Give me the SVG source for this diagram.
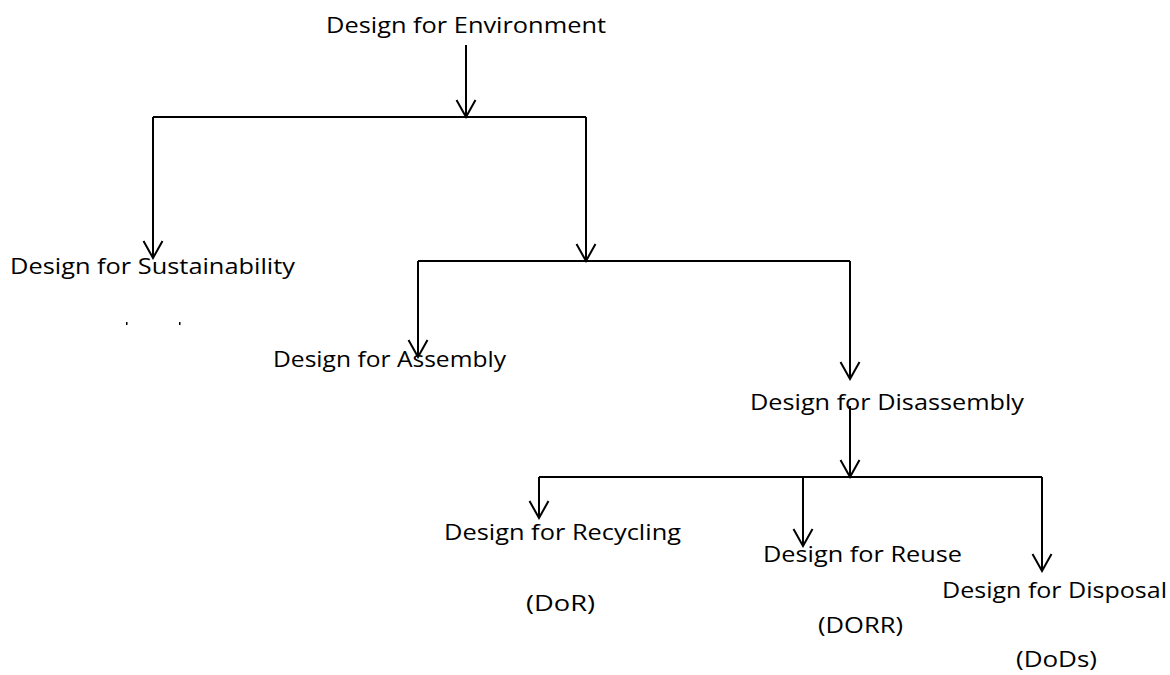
<svg xmlns="http://www.w3.org/2000/svg" width="1170" height="675" viewBox="0 0 1170 675">
<style>
.t{font-family:"Open Sans","Liberation Sans",sans-serif;font-size:22px;fill:#000}
.c{stroke:#000;stroke-width:2;fill:none}
</style>
<defs>
<marker id="v" markerUnits="userSpaceOnUse" viewBox="-20 -11 22 22" refX="0" refY="0" markerWidth="22" markerHeight="22" orient="auto">
<path d="M-17,-9.5 L0,0 L-17,9.5" fill="none" stroke="#000" stroke-width="2"/>
</marker>
</defs>
<rect width="1170" height="675" fill="#fff"/>
<g id="connectors">
<line class="c" x1="466" y1="45" x2="466" y2="117" marker-end="url(#v)"/>
<polyline class="c" points="153,117 586,117"/>
<line class="c" x1="153" y1="117" x2="153" y2="258" marker-end="url(#v)"/>
<line class="c" x1="586" y1="117" x2="586" y2="261" marker-end="url(#v)"/>
<polyline class="c" points="418,261 850,261"/>
<line class="c" x1="418" y1="261" x2="418" y2="357" marker-end="url(#v)"/>
<line class="c" x1="850" y1="261" x2="850" y2="379" marker-end="url(#v)"/>
<line class="c" x1="850" y1="406" x2="850" y2="477" marker-end="url(#v)"/>
<polyline class="c" points="539,477 1042,477"/>
<line class="c" x1="539" y1="477" x2="539" y2="518" marker-end="url(#v)"/>
<line class="c" x1="803" y1="477" x2="803" y2="546" marker-end="url(#v)"/>
<line class="c" x1="1042" y1="477" x2="1042" y2="571" marker-end="url(#v)"/>
<rect x="126" y="322" width="1.5" height="3" fill="#000"/>
<rect x="179" y="322" width="1.5" height="3" fill="#000"/>
</g>
<g id="n-env"><text class="t" x="326" y="33" textLength="280" lengthAdjust="spacingAndGlyphs">Design for Environment</text></g>
<g id="n-sust"><text class="t" x="10" y="274" textLength="285" lengthAdjust="spacingAndGlyphs">Design for Sustainability</text></g>
<g id="n-asm"><text class="t" x="273" y="367" textLength="233" lengthAdjust="spacingAndGlyphs">Design for Assembly</text></g>
<g id="n-dis"><text class="t" x="750" y="410" textLength="274" lengthAdjust="spacingAndGlyphs">Design for Disassembly</text></g>
<g id="n-rec"><text class="t" x="444" y="540" textLength="237" lengthAdjust="spacingAndGlyphs">Design for Recycling</text><text class="t" x="526" y="611" textLength="69" lengthAdjust="spacingAndGlyphs">(DoR)</text></g>
<g id="n-reuse"><text class="t" x="763" y="562" textLength="199" lengthAdjust="spacingAndGlyphs">Design for Reuse</text><text class="t" x="818" y="633" textLength="85" lengthAdjust="spacingAndGlyphs">(DORR)</text></g>
<g id="n-disp"><text class="t" x="942" y="598" textLength="225" lengthAdjust="spacingAndGlyphs">Design for Disposal</text><text class="t" x="1016" y="667" textLength="81" lengthAdjust="spacingAndGlyphs">(DoDs)</text></g>
</svg>
